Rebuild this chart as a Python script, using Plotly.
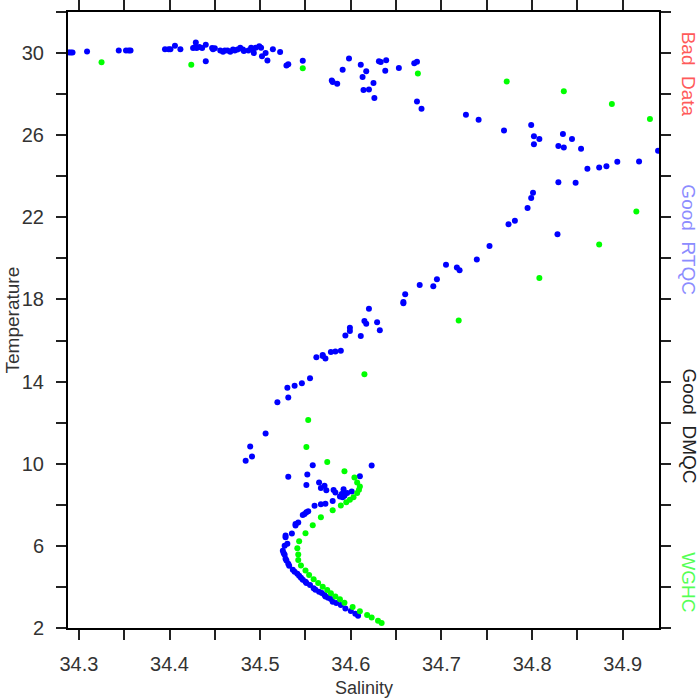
import plotly.graph_objects as go

# ---- data ----
blue_sal = [34.289, 34.291, 34.293, 34.309, 34.344, 34.352, 34.355, 34.357, 34.395, 34.399,
            34.401, 34.406, 34.412, 34.426, 34.428, 34.430, 34.433, 34.436, 34.429, 34.440,
            34.440, 34.447, 34.448, 34.450, 34.456, 34.459, 34.461, 34.464, 34.467, 34.470,
            34.472, 34.475, 34.478, 34.481, 34.482, 34.487, 34.490, 34.492, 34.493, 34.495,
            34.499, 34.501, 34.502, 34.506, 34.508, 34.514, 34.522, 34.529, 34.531, 34.547,
            34.579, 34.580, 34.585, 34.591, 34.598, 34.611, 34.617, 34.613, 34.614, 34.620,
            34.625, 34.626, 34.631, 34.633, 34.639, 34.638, 34.653, 34.670, 34.673, 34.673,
            34.678, 34.727, 34.741, 34.769, 34.799, 34.802, 34.808, 34.802, 34.834, 34.844,
            34.829, 34.835, 34.854, 34.939, 34.861, 34.874, 34.882, 34.894, 34.918, 34.829,
            34.848, 34.801, 34.799, 34.795, 34.781, 34.774, 34.828, 34.753, 34.739, 34.705,
            34.717, 34.720, 34.695, 34.691, 34.676, 34.660, 34.658, 34.658, 34.620, 34.615,
            34.617, 34.629, 34.632, 34.599, 34.599, 34.594, 34.611, 34.589, 34.583, 34.578,
            34.569, 34.569, 34.572, 34.562, 34.555, 34.546, 34.538, 34.530, 34.531, 34.519,
            34.506, 34.489, 34.491, 34.484, 34.558, 34.531, 34.552, 34.623, 34.610, 34.551,
            34.565, 34.571, 34.567, 34.573, 34.581, 34.583, 34.592, 34.592, 34.601, 34.596,
            34.590, 34.588, 34.593, 34.591, 34.580, 34.572, 34.567, 34.560, 34.553, 34.551,
            34.547, 34.549, 34.542, 34.539, 34.539, 34.535, 34.528, 34.528, 34.530, 34.527,
            34.525, 34.526, 34.527, 34.528, 34.529, 34.531, 34.532, 34.536, 34.538, 34.541,
            34.543, 34.545, 34.547, 34.550, 34.551, 34.555, 34.559, 34.561, 34.565, 34.568,
            34.571, 34.572, 34.575, 34.578, 34.580, 34.584, 34.589, 34.594, 34.600, 34.605,
            34.608]
blue_temp = [30.03, 30.03, 30.03, 30.08, 30.13, 30.13, 30.13, 30.13, 30.19, 30.19,
             30.19, 30.36, 30.19, 30.25, 30.28, 30.25, 30.30, 30.25, 30.52, 30.41,
             29.60, 30.25, 30.18, 30.23, 30.13, 30.06, 30.13, 30.13, 30.06, 30.17,
             30.13, 30.17, 30.26, 30.17, 30.10, 30.13, 30.26, 30.19, 30.00, 30.26,
             30.33, 30.26, 29.84, 30.00, 29.64, 30.19, 30.05, 29.39, 29.45, 29.62,
             28.67, 28.59, 28.51, 29.19, 29.73, 29.43, 29.11, 28.83, 28.20, 28.22,
             28.54, 27.81, 29.60, 29.56, 29.65, 29.14, 29.27, 29.50, 29.58, 27.64,
             27.29, 27.00, 26.75, 26.23, 26.50, 25.95, 25.82, 25.56, 26.06, 25.82,
             25.48, 25.40, 25.34, 25.24, 24.36, 24.43, 24.49, 24.71, 24.72, 23.71,
             23.68, 23.20, 22.94, 22.46, 21.83, 21.66, 21.18, 20.60, 19.95, 19.69,
             19.56, 19.42, 18.99, 18.64, 18.71, 18.25, 17.88, 17.82, 17.55, 16.95,
             16.82, 16.89, 16.50, 16.62, 16.46, 16.25, 16.22, 15.50, 15.46, 15.44,
             15.29, 15.25, 15.13, 15.19, 14.16, 13.92, 13.80, 13.70, 13.23, 12.99,
             11.47, 10.84, 10.35, 10.14, 9.93, 9.37, 9.47, 9.91, 9.39, 8.96,
             9.09, 8.93, 8.82, 8.71, 8.72, 8.60, 8.76, 8.60, 8.65, 8.57,
             8.53, 8.40, 8.44, 8.37, 8.19, 8.05, 8.03, 7.95, 7.68, 7.64,
             7.50, 7.55, 7.14, 7.07, 6.99, 6.60, 6.50, 6.42, 6.10, 6.00,
             5.76, 5.64, 5.57, 5.37, 5.29, 5.13, 5.03, 4.84, 4.74, 4.64,
             4.54, 4.45, 4.35, 4.25, 4.19, 4.09, 3.93, 3.86, 3.77, 3.70,
             3.61, 3.54, 3.47, 3.41, 3.28, 3.22, 3.12, 2.95, 2.83, 2.70,
             2.60]

green_sal = [34.325, 34.424, 34.547, 34.674, 34.772, 34.835, 34.888, 34.930, 34.915, 34.874,
             34.808, 34.719, 34.615, 34.553, 34.551, 34.574, 34.593, 34.604, 34.607, 34.610,
             34.609, 34.607, 34.603, 34.599, 34.595, 34.589, 34.580, 34.567, 34.558, 34.550,
             34.543, 34.541, 34.542, 34.542, 34.545, 34.550, 34.554, 34.559, 34.564, 34.569,
             34.574, 34.578, 34.583, 34.588, 34.593, 34.602, 34.610, 34.618, 34.623, 34.630,
             34.634]
green_temp = [29.55, 29.43, 29.26, 29.00, 28.62, 28.14, 27.52, 26.79, 22.29, 20.68,
              19.05, 16.98, 14.36, 12.13, 10.81, 10.09, 9.64, 9.33, 9.08, 8.89,
              8.73, 8.57, 8.37, 8.24, 8.13, 7.97, 7.73, 7.39, 7.01, 6.62,
              6.23, 5.89, 5.58, 5.31, 5.04, 4.80, 4.58, 4.38, 4.19, 4.01,
              3.85, 3.69, 3.53, 3.40, 3.23, 3.02, 2.82, 2.63, 2.51, 2.35,
              2.24]

x_tickvals = [34.30, 34.35, 34.40, 34.45, 34.50, 34.55, 34.60, 34.65, 34.70, 34.75, 34.80, 34.85, 34.90]
x_ticktext = ["34.3", "", "34.4", "", "34.5", "", "34.6", "", "34.7", "", "34.8", "", "34.9"]
y_tickvals = [2, 4, 6, 8, 10, 12, 14, 16, 18, 20, 22, 24, 26, 28, 30, 32]
y_ticktext = ["2", "", "6", "", "10", "", "14", "", "18", "", "22", "", "26", "", "30", ""]

legend_labels = ["Bad  Data", "Good  RTQC", "Good  DMQC", "WGHC"]
legend_colors = ["#ff5a5a", "#8c8cff", "#222222", "#55ff55"]
legend_ypos = [0.899, 0.630, 0.328, 0.075]

FONT = "Liberation Sans"

fig = go.Figure()
fig.add_trace(go.Scatter(x=blue_sal, y=blue_temp, mode="markers",
                         marker=dict(color="#0000ff", size=6, line=dict(width=0)),
                         showlegend=False))
fig.add_trace(go.Scatter(x=green_sal, y=green_temp, mode="markers",
                         marker=dict(color="#00ff00", size=6, line=dict(width=0)),
                         showlegend=False))

axis_common = dict(showgrid=False, zeroline=False, showline=True, linecolor="#000000",
                   linewidth=2, mirror="allticks", ticks="outside", ticklen=10,
                   tickwidth=1.5, tickcolor="#222222",
                   tickfont=dict(family=FONT, size=20, color="#333333"))

fig.update_xaxes(range=[34.288, 34.94], tickmode="array", tickvals=x_tickvals,
                 ticktext=x_ticktext, ticklabelstandoff=7, **axis_common)
fig.update_yaxes(range=[2, 32], tickmode="array", tickvals=y_tickvals,
                 ticktext=y_ticktext, ticklabelstandoff=8, **axis_common)

annotations = [
    dict(text="Salinity", xref="paper", yref="paper", x=0.5, y=-0.097,
         showarrow=False, xanchor="center", yanchor="middle",
         font=dict(family=FONT, size=18, color="#333333")),
    dict(text="Temperature", xref="paper", yref="paper", x=-0.094, y=0.5,
         showarrow=False, xanchor="center", yanchor="middle", textangle=-90,
         font=dict(family=FONT, size=19, color="#333333")),
]
for lab, col, yp in zip(legend_labels, legend_colors, legend_ypos):
    annotations.append(dict(text=lab, xref="paper", yref="paper", x=1.05, y=yp,
                            showarrow=False, xanchor="center", yanchor="middle",
                            textangle=90, font=dict(family=FONT, size=19, color=col)))

fig.update_layout(width=700, height=700, autosize=False,
                  margin=dict(l=68, r=41, t=12, b=72, autoexpand=False),
                  plot_bgcolor="white", paper_bgcolor="white",
                  annotations=annotations)

fig.write_html("out.html", config={"displayModeBar": False},
               post_script="document.body.style.margin='0';document.body.style.overflow='hidden';")
